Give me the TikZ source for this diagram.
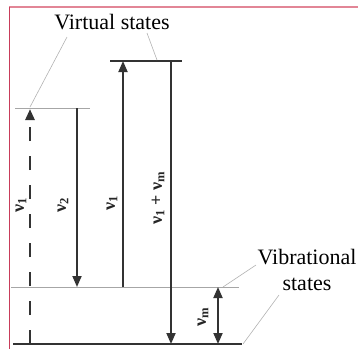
\documentclass[tikz,border=0pt]{standalone}
\usepackage{fontspec}
\setmainfont{Liberation Serif}
\usetikzlibrary{arrows.meta, positioning}
\definecolor{framepink}{RGB}{226,134,150}
\definecolor{framered}{RGB}{200,60,90}

\begin{document}
\begin{tikzpicture}[x=1pt, y=-1pt,
    level/.style={draw=black!80, line width=1.6pt},
    thinlevel/.style={draw=black!35, line width=1pt},
    transarrow/.style={-{Triangle[length=11pt, width=9pt]}, line width=1.8pt, draw=black!80},
    dasharrow/.style={transarrow, line width=2.6pt, dash pattern=on 14pt off 15pt},
    leader/.style={draw=black!30, line width=0.6pt},
    labelstyle/.style={font=\fontsize{22}{26}\selectfont, align=center, inner sep=0pt},
    freqstyle/.style={font=\fontsize{18}{22}\selectfont\bfseries, rotate=90, inner sep=0pt, text=black!85}
]
    \useasboundingbox (0,0) rectangle (358,349);

    % Frame
    \draw[draw=framepink, line width=2pt] (9,7) -- (358,7);
    \draw[draw=framered, line width=0.8pt] (9,7) -- (9,349);

    % Energy levels
    \coordinate (gnd-l) at (13,344);   \coordinate (gnd-r) at (242,344);
    \coordinate (vib-l) at (11,287);   \coordinate (vib-r) at (239,287);
    \coordinate (vA-l) at (15,108);    \coordinate (vA-r) at (90,108);
    \coordinate (vB-l) at (110,61);    \coordinate (vB-r) at (182,61);
    \draw[level] (gnd-l) -- (gnd-r);
    \draw[thinlevel] (vib-l) -- (vib-r);
    \draw[thinlevel] (vA-l) -- (vA-r);
    \draw[level] (vB-l) -- (vB-r);

    % Transitions
    \coordinate (dash-b) at (30,344);  \coordinate (dash-t) at (30,109);
    \coordinate (st-t) at (77,108);    \coordinate (st-b) at (77,287);
    \coordinate (up-b) at (123,287);   \coordinate (up-t) at (123,61);
    \coordinate (as-t) at (171,61);    \coordinate (as-b) at (171,344);
    \coordinate (vm-t) at (218,287);   \coordinate (vm-b) at (218,344);
    \draw[dasharrow] (dash-b) -- (dash-t);
    \draw[transarrow] (st-t) -- (st-b);
    \draw[transarrow] (up-b) -- (up-t);
    \draw[transarrow] (as-t) -- (as-b);
    \draw[transarrow, {Triangle[length=11pt, width=9pt]}-{Triangle[length=11pt, width=9pt]}] (vm-t) -- (vm-b);

    % Frequency labels
    \node[freqstyle] (f1) at (21,205) {ν\textsubscript{1}};
    \node[freqstyle] (f2) at (63,205) {ν\textsubscript{2}};
    \node[freqstyle] (f3) at (112,203) {ν\textsubscript{1}};
    \node[freqstyle] (f4) at (158,198) {ν\textsubscript{1} + ν\textsubscript{m}};
    \node[freqstyle] (f5) at (203,317) {ν\textsubscript{m}};

    % State names with leaders
    \node[labelstyle] (virt) at (112,22) {Virtual states};
    \node[labelstyle] (vibr) at (307,270) {Vibrational\\states};
    \coordinate (lead-a) at (67,37);   \coordinate (lead-b) at (147,33);
    \coordinate (lead-c) at (256,265); \coordinate (lead-d) at (279,295);
    \draw[leader] (lead-a) -- (30,107);
    \draw[leader] (lead-b) -- (157,60);
    \draw[leader] (lead-c) -- (223,287);
    \draw[leader] (lead-d) -- (243,344);
\end{tikzpicture}
\end{document}
